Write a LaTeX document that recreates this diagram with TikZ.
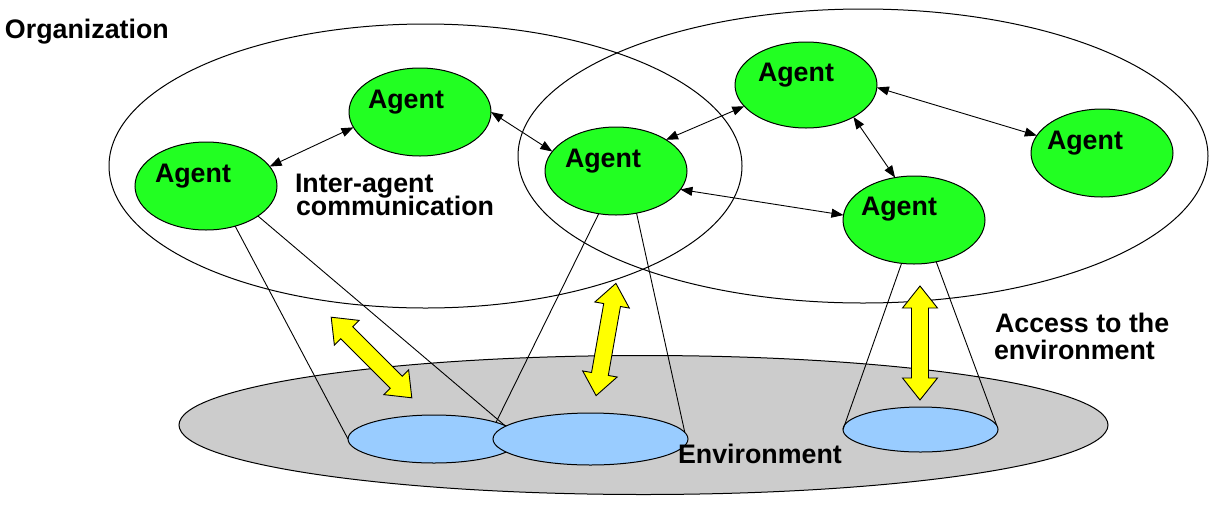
\documentclass[tikz,border=0pt]{standalone}
\usepackage{fontspec}
\setmainfont{Liberation Sans}
\usetikzlibrary{shapes.geometric,arrows.meta}
\definecolor{agentgreen}{HTML}{22FF22}
\definecolor{envgray}{HTML}{CCCCCC}
\definecolor{spotblue}{HTML}{99CCFF}
\definecolor{accyellow}{HTML}{FFFF00}
\begin{document}
\begin{tikzpicture}[x=1pt,y=-1pt,
  every node/.style={inner sep=0pt,outer sep=0pt},
  oval/.style={ellipse,draw=black,line width=1pt},
  agent/.style={oval,fill=agentgreen,minimum width=142pt,minimum height=88pt},
  spot/.style={oval,fill=spotblue},
  lbl/.style={font=\fontsize{26.8}{26.8}\selectfont\bfseries,anchor=base west},
  comm/.style={line width=0.9pt,{Triangle[length=12pt,width=9pt]}-{Triangle[length=12pt,width=9pt]}},
  cone/.style={line width=0.9pt},
  yarrow/.pic={\draw[line width=0.9pt,fill=accyellow] (-57,0) -- (-35,17.5) -- (-35,8.5) -- (35,8.5) -- (35,17.5) -- (57,0) -- (35,-17.5) -- (35,-8.5) -- (-35,-8.5) -- (-35,-17.5) -- cycle;}
]
\useasboundingbox (0,0) rectangle (1216,507);
% environment
\node[oval,fill=envgray,minimum width=929pt,minimum height=139pt] (env) at (643.5,425) {};
\node[spot,minimum width=172pt,minimum height=48pt] (b1) at (434,439) {};
\node[spot,minimum width=195pt,minimum height=52pt] (b2) at (590.5,439) {};
\node[spot,minimum width=155pt,minimum height=45pt] (b3) at (920.5,429.5) {};
% organizations
\node[oval,minimum width=633pt,minimum height=284pt] (org1) at (425.5,166) {};
\node[oval,minimum width=690pt,minimum height=294pt] (org2) at (863,156) {};
% agents
\node[agent] (a1) at (206,186) {};
\node[agent] (a2) at (420,112) {};
\node[agent] (a3) at (616,171) {};
\node[agent,minimum height=86pt] (a4) at (806,85) {};
\node[agent] (a5) at (1102,153) {};
\node[agent] (a6) at (914,220) {};
\node[lbl] (a1t) at ([shift={(-51,-4)}]a1.center) {Agent};
\node[lbl] (a2t) at ([shift={(-52,-4)}]a2.center) {Agent};
\node[lbl] (a3t) at ([shift={(-51,-4)}]a3.center) {Agent};
\node[lbl] (a4t) at ([shift={(-48,-4)}]a4.center) {Agent};
\node[lbl] (a5t) at ([shift={(-55,-4)}]a5.center) {Agent};
\node[lbl] (a6t) at ([shift={(-53,-5)}]a6.center) {Agent};
% cone lines
\draw[cone] (a1.306) -- (b1.180);
\draw[cone] (a1.330) -- (b1.11);
\draw[cone] (a3.248) -- (b1.15);
\draw[cone] (a3.296) -- (b2.4);
\draw[cone] (a6.254) -- (b3.180);
\draw[cone] (a6.298) -- (b3.3);
% communication
\draw[comm] (a1.17) -- (a2.193);
\draw[comm] (a2.0) -- (a3.163);
\draw[comm] (a3.32) -- (a4.199);
\draw[comm] (a4.358) -- (a5.165);
\draw[comm] (a4.326) -- (a6.114);
\draw[comm] (a3.344) -- (a6.176);
% access arrows
\pic[rotate=-45] at (371.5,357.5) {yarrow};
\pic[rotate=80] at (606,339.5) {yarrow};
\pic[rotate=90] at (920,343) {yarrow};
% labels
\node[lbl] (orgt) at (5,38) {Organization};
\node[lbl] (ia1) at (295,192) {Inter-agent};
\node[lbl] (ia2) at (296,215) {communication};
\node[lbl] (acc1) at (995,332) {Access to the};
\node[lbl] (acc2) at (994,359) {environment};
\node[lbl] (envt) at (678,463) {Environment};
\end{tikzpicture}
\end{document}
